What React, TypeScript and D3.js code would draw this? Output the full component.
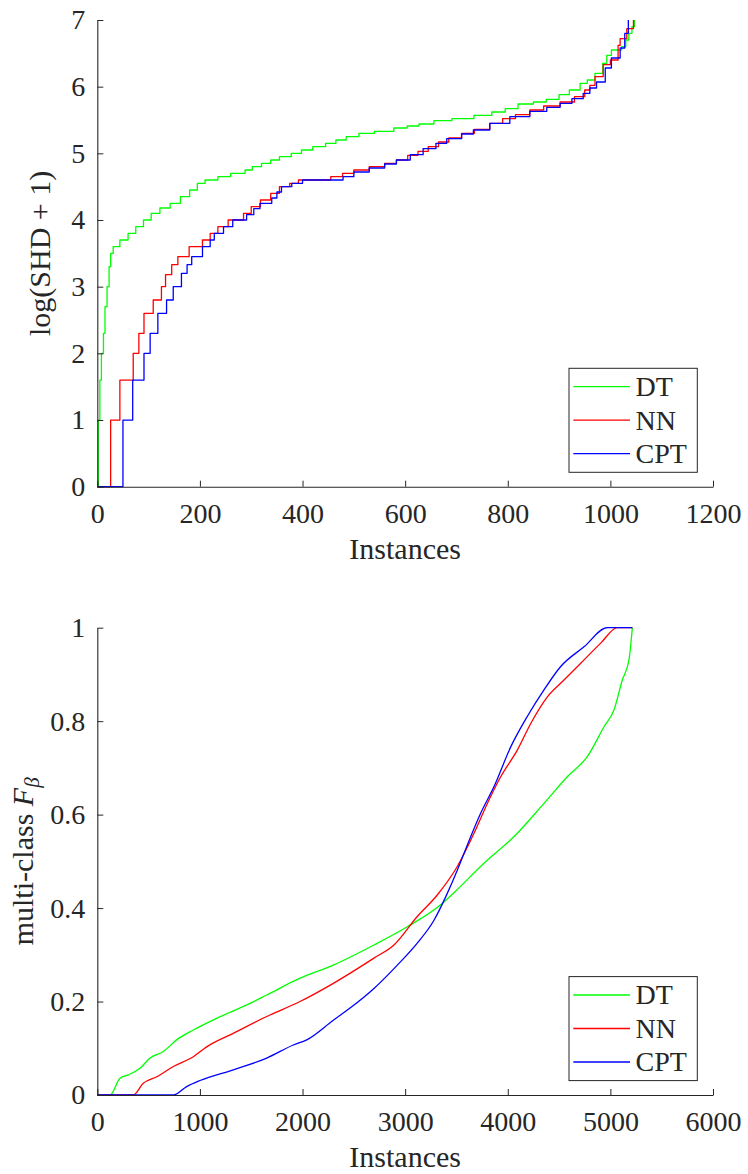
import { useEffect, useRef } from 'react';
import * as d3 from 'd3';

type Pt = [number, number];

// top panel: log(SHD + 1), sorted per instance (step breakpoints)
const shdDT: Pt[] = [
  [0, 0], [2, 1.0], [5, 1.6], [8, 2.0], [12, 2.3], [15, 2.7], [19, 3.0], [23, 3.3], [26, 3.5],
  [31, 3.6], [44, 3.7], [60, 3.8], [75, 3.9], [90, 4.0], [105, 4.1], [122, 4.18], [142, 4.25],
  [162, 4.35], [180, 4.45], [195, 4.55], [210, 4.6], [235, 4.65], [260, 4.7], [288, 4.75],
  [302, 4.8], [320, 4.85], [338, 4.9], [355, 4.95], [378, 5.0], [398, 5.05], [420, 5.1],
  [445, 5.15], [465, 5.2], [485, 5.25], [510, 5.3], [540, 5.33], [578, 5.38], [604, 5.41],
  [627, 5.44], [656, 5.49], [691, 5.52], [734, 5.57], [769, 5.62], [795, 5.67], [820, 5.74],
  [850, 5.77], [875, 5.81], [900, 5.88], [920, 5.95], [941, 6.05], [955, 6.1], [970, 6.2],
  [985, 6.35], [993, 6.47], [1002, 6.55], [1022, 6.6], [1030, 6.7], [1036, 6.8], [1042, 6.9],
  [1047, 7.0],
];
const shdNN: Pt[] = [
  [0, 0], [26, 1.0], [44, 1.6], [70, 2.0], [81, 2.3], [91, 2.6], [109, 2.8], [125, 3.0],
  [133, 3.18], [145, 3.33], [157, 3.45], [179, 3.6], [205, 3.7], [220, 3.8], [235, 3.9],
  [255, 4.0], [285, 4.1], [300, 4.2], [318, 4.3], [338, 4.4], [355, 4.5], [375, 4.55],
  [392, 4.6], [455, 4.65], [478, 4.7], [500, 4.75], [530, 4.8], [560, 4.85], [583, 4.9],
  [605, 4.97], [625, 5.03], [645, 5.1], [665, 5.17], [685, 5.23], [710, 5.3], [735, 5.36],
  [765, 5.45], [790, 5.52], [815, 5.58], [843, 5.65], [870, 5.71], [902, 5.77], [930, 5.85],
  [950, 5.95], [960, 6.02], [970, 6.15], [986, 6.33], [1000, 6.4], [1015, 6.62], [1019, 6.72],
  [1032, 6.87], [1045, 7.0],
];
const shdCPT: Pt[] = [
  [0, 0], [50, 1.0], [69, 1.6], [91, 2.0], [103, 2.3], [118, 2.6], [135, 2.8], [148, 3.0],
  [164, 3.2], [175, 3.33], [184, 3.45], [205, 3.6], [220, 3.7], [228, 3.8], [246, 3.9],
  [264, 4.0], [291, 4.08], [305, 4.17], [317, 4.25], [340, 4.33], [350, 4.42], [359, 4.5],
  [379, 4.55], [400, 4.6], [479, 4.65], [500, 4.72], [530, 4.78], [560, 4.84], [583, 4.9],
  [610, 4.98], [635, 5.07], [660, 5.15], [681, 5.22], [710, 5.29], [733, 5.35], [765, 5.45],
  [804, 5.55], [843, 5.63], [876, 5.69], [902, 5.75], [925, 5.82], [947, 5.9], [960, 5.98],
  [973, 6.07], [990, 6.28], [1002, 6.43], [1019, 6.58], [1028, 6.8], [1035, 7.0],
];

// bottom panel: multi-class F_beta, sorted per instance
const fbDT: Pt[] = [
  [0, 0], [124, 0], [221, 0.036], [302, 0.043], [416, 0.057], [514, 0.079], [643, 0.093],
  [773, 0.118], [936, 0.139], [1163, 0.164], [1488, 0.196], [1651, 0.214], [1975, 0.25],
  [2300, 0.278], [2696, 0.321], [3021, 0.36], [3346, 0.407], [3476, 0.433], [3768, 0.496],
  [4061, 0.553], [4353, 0.624], [4580, 0.681], [4775, 0.724], [4938, 0.788], [5035, 0.824],
  [5116, 0.888], [5181, 0.931], [5214, 1.0],
];
const fbNN: Pt[] = [
  [0, 0], [351, 0], [448, 0.025], [579, 0.039], [741, 0.061], [936, 0.082], [1066, 0.103],
  [1325, 0.132], [1651, 0.168], [1975, 0.2], [2300, 0.239], [2696, 0.293], [2891, 0.321],
  [3118, 0.382], [3313, 0.428], [3508, 0.489], [3671, 0.56], [3801, 0.624], [3931, 0.681],
  [4093, 0.738], [4224, 0.795], [4386, 0.852], [4548, 0.888], [4711, 0.924], [4906, 0.967],
  [5068, 1.0], [5214, 1.0],
];
const fbCPT: Pt[] = [
  [0, 0], [741, 0], [871, 0.018], [1001, 0.031], [1325, 0.054], [1651, 0.079], [1910, 0.107],
  [2041, 0.118], [2300, 0.16], [2463, 0.186], [2696, 0.228], [2924, 0.278], [3118, 0.325],
  [3281, 0.374], [3395, 0.424], [3508, 0.481], [3573, 0.517], [3736, 0.603], [3866, 0.66],
  [4029, 0.745], [4190, 0.81], [4353, 0.867], [4516, 0.917], [4743, 0.959], [4970, 1.0],
  [5214, 1.0],
];

const seriesNames = ['DT', 'NN', 'CPT'];
const seriesColors = ['#00ff00', '#ff0000', '#0000ff'];

const shdXTicks = [0, 200, 400, 600, 800, 1000, 1200];
const shdYTicks = [0, 1, 2, 3, 4, 5, 6, 7];
const fbXTicks = [0, 1000, 2000, 3000, 4000, 5000, 6000];
const fbYTicks = [0, 0.2, 0.4, 0.6, 0.8, 1];

const W = 748;
const H = 1174;
const left = 97.3;
const right = 713;
const ink = '#262626';
const font = 'Liberation Serif, DejaVu Serif, serif';

const App = () => {
  const svgRef = useRef<SVGSVGElement | null>(null);

  useEffect(() => {
    const svg = d3.select(svgRef.current);
    svg.selectAll('*').remove();

    const panel = (cfg: {
      top: number;
      bottom: number;
      xMax: number;
      yMax: number;
      xTicks: number[];
      yTicks: number[];
      series: Pt[][];
      step: boolean;
      yLabelX: number;
      yLabel: (t: d3.Selection<SVGTextElement, unknown, null, undefined>) => void;
    }) => {
      const x = d3.scaleLinear().domain([0, cfg.xMax]).range([left, right]);
      const y = d3.scaleLinear().domain([0, cfg.yMax]).range([cfg.bottom, cfg.top]);
      const g = svg.append('g');

      // lines
      const line = d3.line<Pt>()
        .x(d => x(d[0]))
        .y(d => y(d[1]))
        .curve(cfg.step ? d3.curveStepAfter : d3.curveMonotoneX);
      cfg.series.forEach((s, i) => {
        g.append('path')
          .datum(s)
          .attr('fill', 'none')
          .attr('stroke', seriesColors[i])
          .attr('stroke-width', 1.3)
          .attr('stroke-linejoin', 'round')
          .attr('d', line);
      });

      // axes
      const xAxis = g.append('g')
        .attr('transform', `translate(0,${cfg.bottom})`)
        .call(d3.axisBottom(x).tickValues(cfg.xTicks).tickSizeInner(-6).tickSizeOuter(0).tickPadding(16).tickFormat(d3.format('d')));
      const yAxis = g.append('g')
        .attr('transform', `translate(${left},0)`)
        .call(d3.axisLeft(y).tickValues(cfg.yTicks).tickSizeInner(-6).tickSizeOuter(0).tickPadding(12).tickFormat(d => String(+d)));
      [xAxis, yAxis].forEach(a => {
        a.attr('color', ink).attr('font-family', font).attr('font-size', 28);
        a.selectAll('text').attr('fill', ink);
        a.select('.domain').attr('stroke-width', 1.1);
      });

      g.append('text')
        .attr('x', (left + right) / 2)
        .attr('y', cfg.bottom + 72)
        .attr('text-anchor', 'middle')
        .attr('font-family', font)
        .attr('font-size', 30)
        .attr('fill', ink)
        .text('Instances');

      const yl = g.append('text')
        .attr('transform', `translate(${cfg.yLabelX},${(cfg.top + cfg.bottom) / 2}) rotate(-90)`)
        .attr('text-anchor', 'middle')
        .attr('font-family', font)
        .attr('font-size', 30)
        .attr('fill', ink);
      cfg.yLabel(yl);

      // legend
      const lw = 128.3;
      const lh = 104;
      const lx = right - 15.7 - lw;
      const ly = cfg.bottom - 14.4 - lh;
      const leg = g.append('g').attr('transform', `translate(${lx},${ly})`);
      leg.append('rect')
        .attr('width', lw)
        .attr('height', lh)
        .attr('fill', '#fff')
        .attr('stroke', ink)
        .attr('stroke-width', 1);
      seriesNames.forEach((name, i) => {
        const cy = 18.4 + i * 33.5;
        leg.append('line')
          .attr('x1', 4.3).attr('x2', 61)
          .attr('y1', cy).attr('y2', cy)
          .attr('stroke', seriesColors[i])
          .attr('stroke-width', 1.3);
        leg.append('text')
          .attr('x', 66.5)
          .attr('y', cy + 9.5)
          .attr('font-family', font)
          .attr('font-size', 28)
          .attr('fill', ink)
          .text(name);
      });
    };

    panel({
      top: 20, bottom: 486.7, xMax: 1200, yMax: 7,
      xTicks: shdXTicks, yTicks: shdYTicks,
      series: [shdDT, shdNN, shdCPT], step: true,
      yLabelX: 50,
      yLabel: t => { t.text('log(SHD + 1)'); },
    });

    panel({
      top: 627.7, bottom: 1095, xMax: 6000, yMax: 1,
      xTicks: fbXTicks, yTicks: fbYTicks,
      series: [fbDT, fbNN, fbCPT], step: false,
      yLabelX: 33,
      yLabel: t => {
        t.append('tspan').text('multi-class ');
        t.append('tspan').attr('font-style', 'italic').text('F');
        t.append('tspan').attr('font-style', 'italic').attr('font-size', 21).attr('dy', 6).text('β');
      },
    });
  }, []);

  return (
    <div style={{ position: 'absolute', left: 0, top: 0, background: '#fff' }}>
      <svg ref={svgRef} width={W} height={H} viewBox={`0 0 ${W} ${H}`} style={{ display: 'block' }} />
    </div>
  );
};

export default App;
